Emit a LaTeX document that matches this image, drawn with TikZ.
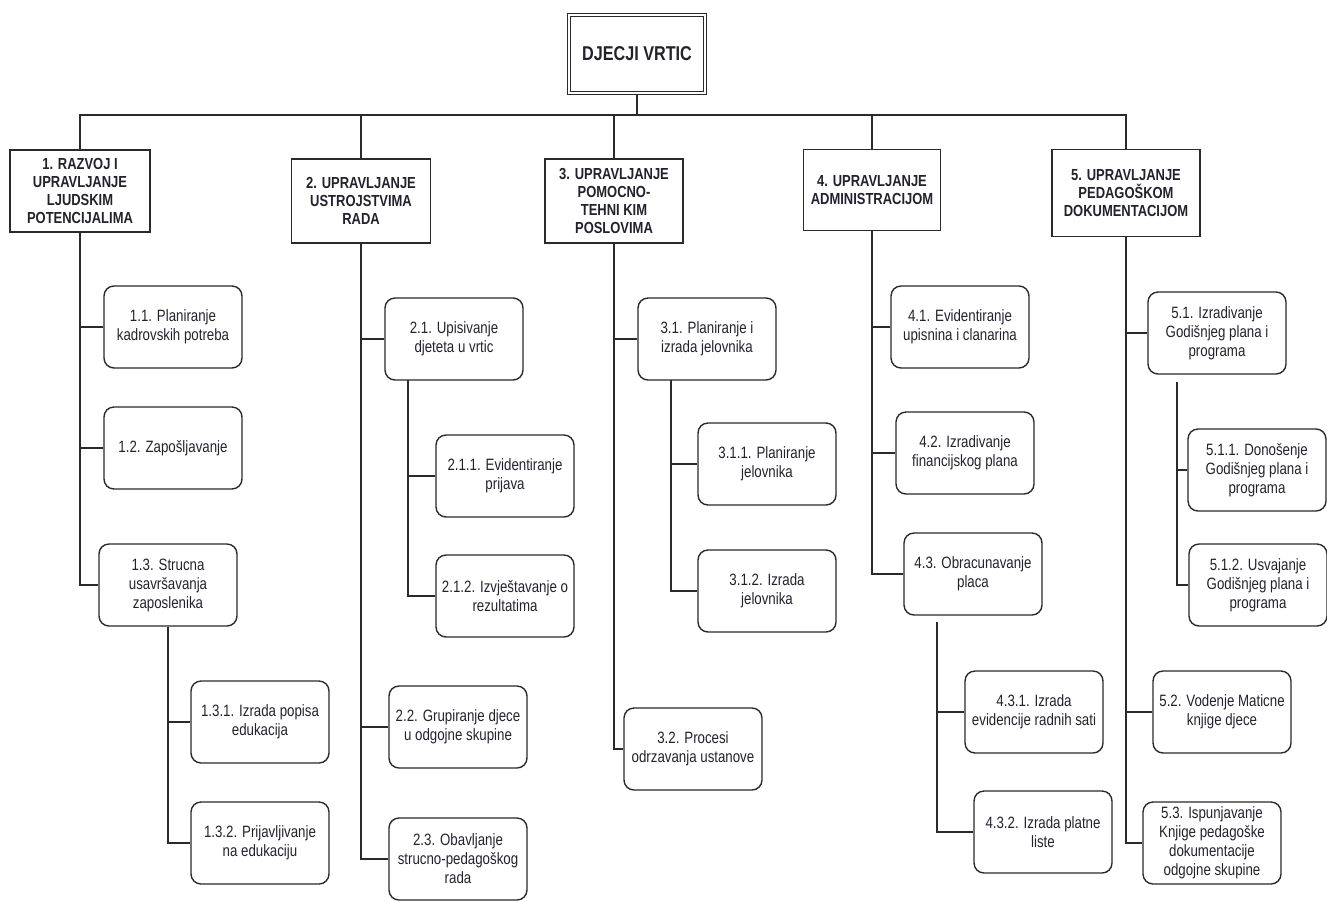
\documentclass[tikz,border=0pt]{standalone}
\usepackage{fontspec}
\setmainfont{Liberation Sans}[FakeStretch=0.81]
\usepackage{tikz}
\definecolor{ink}{HTML}{22222E}
\definecolor{wire}{HTML}{2A2A2A}

\begin{document}
\begin{tikzpicture}[x=0.5pt, y=-0.5pt, line width=0.7pt, draw=wire, text=ink,
  rootbox/.style={draw, double, double distance=1pt, minimum width=68pt, minimum height=39pt, font=\bfseries\fontsize{10}{11}\selectfont},
  topbox/.style={draw, align=center, minimum width=69pt, minimum height=41pt, inner sep=1pt, font=\bfseries\fontsize{8}{9}\selectfont},
  subbox/.style={draw, rounded corners=5pt, align=center, minimum width=69pt, minimum height=41pt, inner sep=1pt, font=\fontsize{8.2}{9.5}\selectfont}]
\useasboundingbox (0,0) rectangle (1327,901);

\node[rootbox] (vrtic) at (637,54) {DJECJI VRTIC};
\node[topbox, minimum width=70pt] (b1) at (80,191) {1. RAZVOJ I\\UPRAVLJANJE\\LJUDSKIM\\POTENCIJALIMA};
\node[topbox, minimum width=69.5pt, minimum height=42pt] (b2) at (361,201) {2. UPRAVLJANJE\\USTROJSTVIMA\\RADA};
\node[topbox, minimum height=42pt] (b3) at (614,201) {3. UPRAVLJANJE\\POMOCNO-\\TEHNI KIM\\POSLOVIMA};
\node[topbox, minimum width=68.5pt, minimum height=40.5pt] (b4) at (872,190) {4. UPRAVLJANJE\\ADMINISTRACIJOM};
\node[topbox, minimum width=74pt, minimum height=43.5pt] (b5) at (1126,193) {5. UPRAVLJANJE\\PEDAGOŠKOM\\DOKUMENTACIJOM};

\node[subbox] (s11) at (173,327) {1.1. Planiranje\\kadrovskih potreba};
\node[subbox] (s12) at (173,448) {1.2. Zapošljavanje};
\node[subbox] (s13) at (168,585) {1.3. Strucna\\usavršavanja\\zaposlenika};
\node[subbox] (s131) at (260,722) {1.3.1. Izrada popisa\\edukacija};
\node[subbox] (s132) at (260,843) {1.3.2. Prijavljivanje\\na edukaciju};

\node[subbox] (s21) at (454,339) {2.1. Upisivanje\\djeteta u vrtic};
\node[subbox] (s211) at (505,476) {2.1.1. Evidentiranje\\prijava};
\node[subbox] (s212) at (505,596) {2.1.2. Izvještavanje o\\rezultatima};
\node[subbox] (s22) at (458,727) {2.2. Grupiranje djece\\u odgojne skupine};
\node[subbox] (s23) at (458,859) {2.3. Obavljanje\\strucno-pedagoškog\\rada};

\node[subbox] (s31) at (707,339) {3.1. Planiranje i\\izrada jelovnika};
\node[subbox] (s311) at (767,464) {3.1.1. Planiranje\\jelovnika};
\node[subbox] (s312) at (767,591) {3.1.2. Izrada\\jelovnika};
\node[subbox] (s32) at (693,749) {3.2. Procesi\\odrzavanja ustanove};

\node[subbox] (s41) at (960,327) {4.1. Evidentiranje\\upisnina i clanarina};
\node[subbox] (s42) at (965,453) {4.2. Izradivanje\\financijskog plana};
\node[subbox] (s43) at (973,574) {4.3. Obracunavanje\\placa};
\node[subbox] (s431) at (1034,712) {4.3.1. Izrada\\evidencije radnih sati};
\node[subbox] (s432) at (1043,832) {4.3.2. Izrada platne\\liste};

\node[subbox] (s51) at (1217,333) {5.1. Izradivanje\\Godišnjeg plana i\\programa};
\node[subbox] (s511) at (1257,470) {5.1.1. Donošenje\\Godišnjeg plana i\\programa};
\node[subbox] (s512) at (1258,585) {5.1.2. Usvajanje\\Godišnjeg plana i\\programa};
\node[subbox] (s52) at (1222,712) {5.2. Vodenje Maticne\\knjige djece};
\node[subbox] (s53) at (1212,843) {5.3. Ispunjavanje\\Knjige pedagoške\\dokumentacije\\odgojne skupine};

\coordinate (bus) at (637,115);
\coordinate (t21) at (408,380);
\coordinate (t31) at (671,380);
\coordinate (t43) at (937,622);
\coordinate (t51) at (1177,382);

\draw (vrtic.south) -- (bus);
\draw (b1.north) |- (bus);
\draw (b2.north) |- (bus);
\draw (b3.north) |- (bus);
\draw (b4.north) |- (bus);
\draw (b5.north) |- (bus);

\draw (b1.south) |- (s11.west);
\draw (b1.south) |- (s12.west);
\draw (b1.south) |- (s13.west);
\draw (s13.south) |- (s131.west);
\draw (s13.south) |- (s132.west);

\draw (b2.south) |- (s21.west);
\draw (b2.south) |- (s22.west);
\draw (b2.south) |- (s23.west);
\draw (t21) |- (s211.west);
\draw (t21) |- (s212.west);

\draw (b3.south) |- (s31.west);
\draw (b3.south) |- (s32.west);
\draw (t31) |- (s311.west);
\draw (t31) |- (s312.west);

\draw (b4.south) |- (s41.west);
\draw (b4.south) |- (s42.west);
\draw (b4.south) |- (s43.west);
\draw (t43) |- (s431.west);
\draw (t43) |- (s432.west);

\draw (b5.south) |- (s51.west);
\draw (b5.south) |- (s52.west);
\draw (b5.south) |- (s53.west);
\draw (t51) |- (s511.west);
\draw (t51) |- (s512.west);
\end{tikzpicture}
\end{document}
